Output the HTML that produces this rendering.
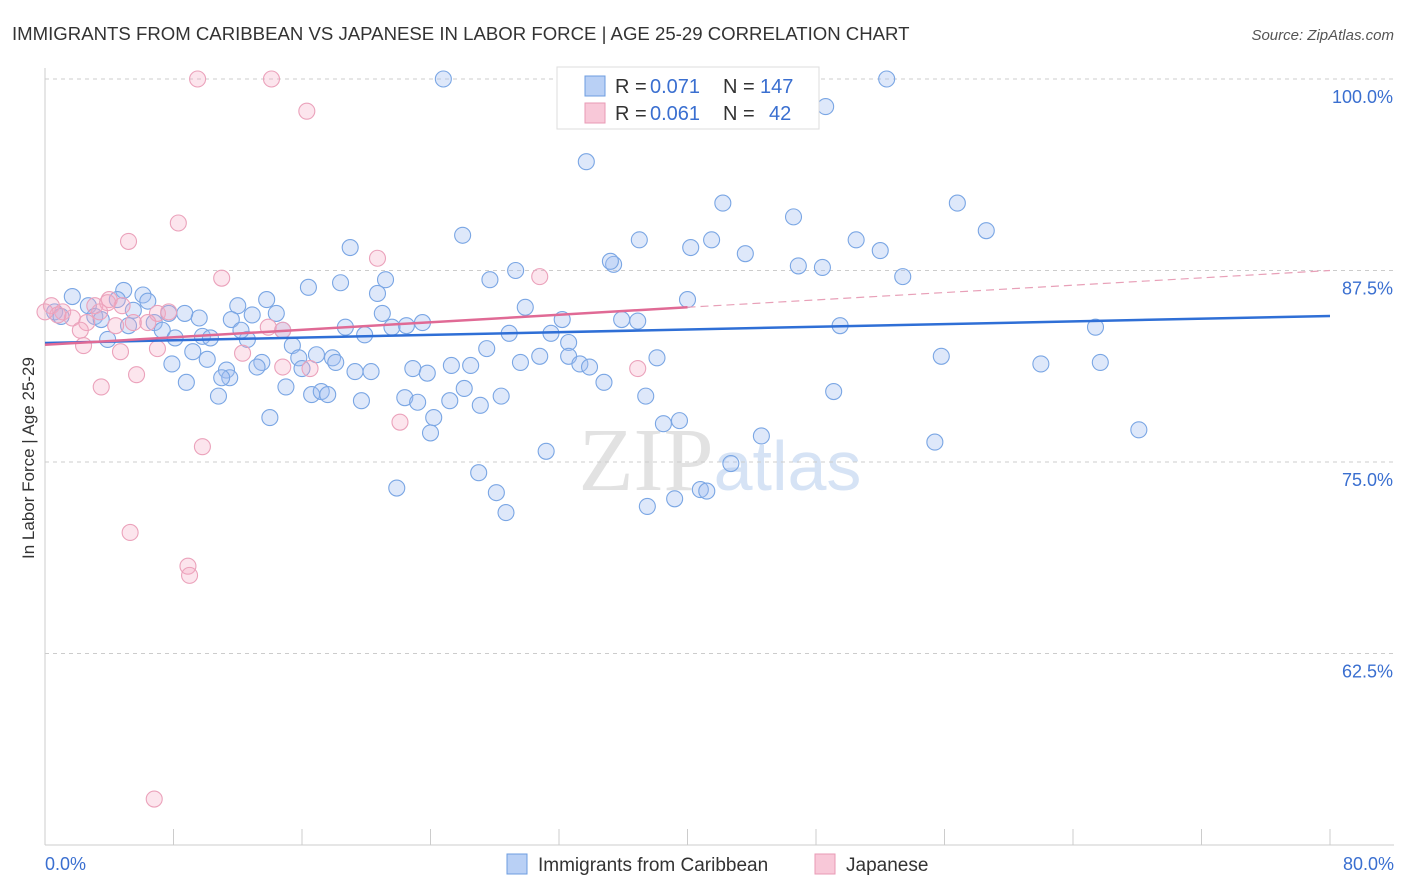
<!DOCTYPE html>
<html><head><meta charset="utf-8"><style>
body{margin:0;background:#fff;font-family:"Liberation Sans",sans-serif}
svg{display:block}
</style></head><body>
<svg id="c" width="1406" height="892">
<text x="12" y="40" font-size="18.6" fill="#333">IMMIGRANTS FROM CARIBBEAN VS JAPANESE IN LABOR FORCE | AGE 25-29 CORRELATION CHART</text>
<text x="1394" y="40" font-size="15" fill="#555" font-style="italic" text-anchor="end">Source: ZipAtlas.com</text>
<text x="34" y="458" font-size="17" fill="#333" text-anchor="middle" transform="rotate(-90 34 458)">In Labor Force | Age 25-29</text>
<text x="720" y="490" font-size="90" fill="#e2e2e2" text-anchor="middle" font-family="Liberation Serif">ZIP<tspan fill="#d6e3f5" font-family="Liberation Sans" font-size="70">atlas</tspan></text>
<g id="grid"></g><g id="pts"></g><g id="trend"></g>
<g>
<rect x="557" y="67" width="262" height="62" fill="#fff" stroke="#ddd"/>
<rect x="585" y="76" width="20" height="20" fill="#b9d0f5" stroke="#6d9de0"/>
<text x="615" y="93" font-size="20" fill="#333">R =</text>
<text x="650" y="93" font-size="20" fill="#3a6fd0">0.071</text>
<text x="723" y="93" font-size="20" fill="#333">N =</text>
<text x="760" y="93" font-size="20" fill="#3a6fd0">147</text>
<rect x="585" y="103" width="20" height="20" fill="#f8c8d8" stroke="#e89ab5"/>
<text x="615" y="120" font-size="20" fill="#333">R =</text>
<text x="650" y="120" font-size="20" fill="#3a6fd0">0.061</text>
<text x="723" y="120" font-size="20" fill="#333">N =</text>
<text x="769" y="120" font-size="20" fill="#3a6fd0">42</text>
</g>
<g>
<rect x="507" y="854" width="20" height="20" fill="#b9d0f5" stroke="#6d9de0"/>
<text x="538" y="871" font-size="19" fill="#333">Immigrants from Caribbean</text>
<rect x="815" y="854" width="20" height="20" fill="#f8c8d8" stroke="#e89ab5"/>
<text x="846" y="871" font-size="19" fill="#333">Japanese</text>
</g>
</svg>
<script>
const yTicks=[100,87.5,75,62.5];
const yTickLabels=["100.0%","87.5%","75.0%","62.5%"];
const xTicks=[0,8,16,24,32,40,48,56,64,72,80];
const blueX=[52.4,24.8,48.6,33.7,42.2,56.8,46.6,58.6,26.0,37.0,41.5,50.5,19.0,40.2,43.6,52.0,35.4,35.2,29.3,46.9,48.4,27.7,21.2,53.4,18.4,16.4,20.7,1.7,4.9,6.1,4.5,6.4,2.7,13.8,29.9,12.0,5.5,7.7,9.6,0.6,1.0,3.1,14.4,12.9,21.0,40.0,32.2,35.9,36.9,11.6,23.5,22.5,21.6,18.7,49.5,65.4,5.2,3.5,6.8,7.3,8.7,19.9,28.9,31.5,32.6,9.8,10.3,8.1,12.6,3.9,14.8,12.2,15.4,27.5,15.8,16.9,17.9,18.1,13.5,13.2,10.1,9.2,7.9,29.6,32.6,30.8,38.1,55.8,62.0,65.7,20.3,33.3,33.9,25.3,26.5,19.3,16.0,11.3,11.5,11.0,22.9,23.8,8.8,26.1,34.8,15.0,16.6,17.2,17.6,25.2,28.4,22.4,19.7,23.2,37.4,49.1,27.1,10.8,24.2,14.0,24.0,38.5,39.5,44.6,55.4,68.1,31.2,42.7,27.0,21.9,28.1,40.8,41.2,39.2,37.5,28.7];
const blueY=[100,100,98.2,94.6,91.9,91.9,91.0,90.1,89.8,89.5,89.5,89.5,89.0,89.0,88.6,88.8,87.9,88.1,87.5,87.8,87.7,86.9,86.9,87.1,86.7,86.4,86.0,85.8,86.2,85.9,85.6,85.5,85.2,85.6,85.1,85.2,84.9,84.7,84.4,84.8,84.5,84.5,84.7,84.6,84.7,85.6,84.3,84.3,84.2,84.3,84.1,83.9,83.8,83.8,83.9,83.8,83.9,84.3,84.1,83.6,84.7,83.3,83.4,83.4,82.8,83.2,83.1,83.1,83.0,83.0,83.6,83.6,82.6,82.4,81.8,82.0,81.8,81.5,81.5,81.2,81.7,82.2,81.4,81.5,81.9,81.9,81.8,81.9,81.4,81.5,80.9,81.4,81.2,81.3,81.3,80.9,81.1,81.0,80.5,80.5,81.1,80.8,80.2,79.8,80.2,79.9,79.4,79.6,79.4,79.0,79.3,79.2,79.0,78.9,79.3,79.6,78.7,79.3,77.9,77.9,76.9,77.5,77.7,76.7,76.3,77.1,75.7,74.9,74.3,73.3,73.0,73.2,73.1,72.6,72.1,71.7];
const pinkX=[9.5,14.1,16.3,8.3,5.2,20.7,11.0,30.8,0.4,1.1,1.7,2.6,4.0,4.8,3.1,7.0,4.4,5.5,6.4,7.7,13.9,14.8,2.4,4.7,7.0,12.3,16.5,14.8,5.7,3.5,36.9,22.1,9.8,5.3,8.9,9.0,6.8,2.2,3.9,0.8,0.0,3.4];
const pinkY=[100,100,97.9,90.6,89.4,88.3,87.0,87.1,85.2,84.8,84.4,84.1,85.6,85.2,85.2,84.7,83.9,84.1,84.1,84.8,83.8,83.6,82.6,82.2,82.4,82.1,81.1,81.2,80.7,79.9,81.1,77.6,76.0,70.4,68.2,67.6,53.0,83.6,85.4,84.6,84.8,84.8];
const blueTrend=[[0,82.77],[80,84.53]];
const pinkTrend=[[0,82.65],[40,85.1],[80,87.5]];
const X=v=>45+v/80*1285, Y=v=>79+(100-v)/12.5*191.5;
const NS="http://www.w3.org/2000/svg";
function mk(t,a,p){const e=document.createElementNS(NS,t);for(const k in a)e.setAttribute(k,a[k]);p.appendChild(e);return e;}
const g=document.getElementById('grid');
yTicks.forEach((v,i)=>{
 const l=mk('line',{x1:45,x2:1394,y1:Y(v),y2:Y(v),stroke:'#ccc','stroke-dasharray':'4,4'},g);
 
 
 const t=mk('text',{x:1393,y:Y(v)+24,'font-size':18,fill:'#3a6fd0','text-anchor':'end'},g);
 t.textContent=yTickLabels[i];
 
 
});
const ax=mk('line',{x1:45,x2:1394,y1:845,y2:845,stroke:'#ccc'},g);


const ay=mk('line',{x1:45,x2:45,y1:68,y2:845,stroke:'#ccc'},g);


xTicks.forEach(v=>{
 const l=mk('line',{x1:X(v),x2:X(v),y1:829,y2:845,stroke:'#ccc'},g);
 
 
});
[[0,"0.0%","start",45],[80,"80.0%","end",1394]].forEach(a=>{
 const t=mk('text',{x:a[3],y:870,'font-size':18,fill:'#3a6fd0','text-anchor':a[2]},g);
 t.textContent=a[1];
 
 
});
const p=document.getElementById('pts');
blueX.forEach((v,i)=>{
 const c=mk('circle',{cx:X(v),cy:Y(blueY[i]),r:8,fill:'rgba(160,190,240,0.35)',stroke:'#7aa6e4','stroke-width':1.1},p);
 
 
});
pinkX.forEach((v,i)=>{
 const c=mk('circle',{cx:X(v),cy:Y(pinkY[i]),r:8,fill:'rgba(245,170,195,0.3)',stroke:'#eba2bb','stroke-width':1.1},p);
 
 
});
const tr=document.getElementById('trend');
const bl=mk('line',{x1:X(blueTrend[0][0]),y1:Y(blueTrend[0][1]),x2:X(blueTrend[1][0]),y2:Y(blueTrend[1][1]),stroke:'#2f6fd6','stroke-width':2.5},tr);


const pl=mk('line',{x1:X(pinkTrend[0][0]),y1:Y(pinkTrend[0][1]),x2:X(pinkTrend[1][0]),y2:Y(pinkTrend[1][1]),stroke:'#e06a95','stroke-width':2.5},tr);


const pd=mk('line',{x1:X(pinkTrend[1][0]),y1:Y(pinkTrend[1][1]),x2:X(pinkTrend[2][0]),y2:Y(pinkTrend[2][1]),stroke:'#e8a0b8','stroke-width':1.2,'stroke-dasharray':'8,5'},tr);


</script>
</body></html>
